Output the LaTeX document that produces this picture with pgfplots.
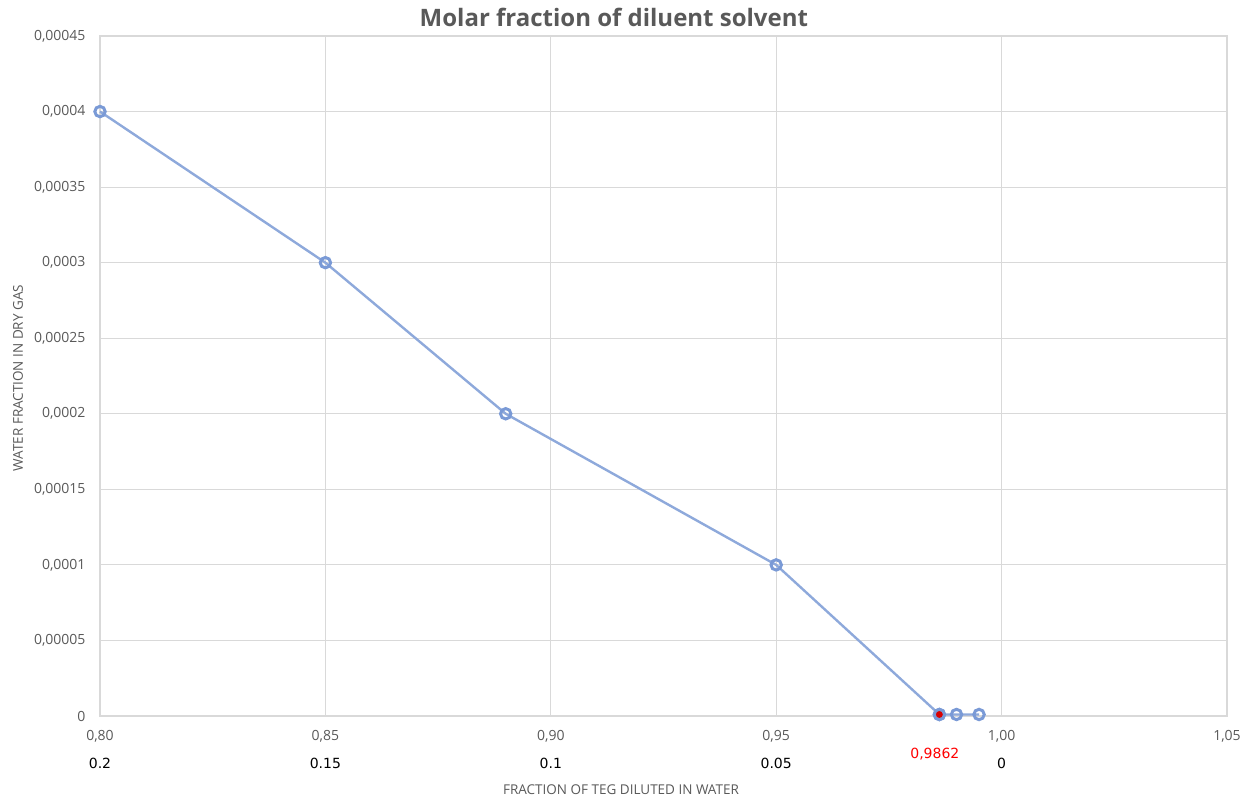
\documentclass[border=0pt]{standalone}
\usepackage{fontspec}
\setmainfont{Open Sans}
\newfontfamily\dejavu{DejaVu Sans}
\usepackage{pgfplots}
\pgfplotsset{compat=1.18}
\definecolor{gridc}{RGB}{217,217,217}
\definecolor{txtc}{RGB}{89,89,89}
\definecolor{linec}{RGB}{142,169,219}
\definecolor{ringc}{RGB}{122,154,214}
\begin{document}
\begin{tikzpicture}
\begin{axis}[
  at={(0,0)}, anchor=south west,
  scale only axis, width=1127bp, height=680bp,
  xmin=0.80, xmax=1.05, ymin=0, ymax=0.00045,
  xtick={0.80,0.85,0.90,0.95,1.00,1.05},
  xticklabels={0{,}80,0{,}85,0{,}90,0{,}95,1{,}00,1{,}05},
  ytick={0,0.00005,0.0001,0.00015,0.0002,0.00025,0.0003,0.00035,0.0004,0.00045},
  yticklabels={0,0{,}00005,0{,}0001,0{,}00015,0{,}0002,0{,}00025,0{,}0003,0{,}00035,0{,}0004,0{,}00045},
  scaled y ticks=false,
  grid=major, major grid style={gridc, line width=1.2bp},
  axis line style={gridc, line width=1.2bp},
  major tick length=0pt,
  tick label style={font=\fontsize{14bp}{16bp}\selectfont, text=txtc},
  yticklabel style={xshift=-11bp},
  xticklabel style={yshift=-11bp},
  clip=false,
]
\addplot[linec, line width=2.4bp, mark=o, mark size=5.2bp,
  mark options={ringc, line width=3bp, fill=white}]
  coordinates {
  (0.80,0.0004)
  (0.85,0.0003)
  (0.89,0.0002)
  (0.95,0.0001)
  (0.9862,0.000001)
  (0.99,0.000001)
  (0.995,0.000001)
  };
\addplot[only marks, mark=*, mark size=5.2bp,
  mark options={draw=ringc, line width=3bp, fill=red!85!black}]
  coordinates {(0.9862,0.000001)};
\node[font=\dejavu\fontsize{14bp}{16bp}\selectfont, text=red] at (axis cs:0.9852,0) [yshift=-38bp] {0,9862};
\node[font=\dejavu\fontsize{14bp}{16bp}\selectfont, text=black] at (axis cs:0.80,0) [yshift=-47bp] {0.2};
\node[font=\dejavu\fontsize{14bp}{16bp}\selectfont, text=black] at (axis cs:0.85,0) [yshift=-47bp] {0.15};
\node[font=\dejavu\fontsize{14bp}{16bp}\selectfont, text=black] at (axis cs:0.90,0) [yshift=-47bp] {0.1};
\node[font=\dejavu\fontsize{14bp}{16bp}\selectfont, text=black] at (axis cs:0.95,0) [yshift=-47bp] {0.05};
\node[font=\dejavu\fontsize{14bp}{16bp}\selectfont, text=black] at (axis cs:1.00,0) [yshift=-47bp] {0};
\node[font=\fontsize{13.5bp}{15bp}\selectfont, text=txtc] at (rel axis cs:0.4623,0) [yshift=-74bp] {FRACTION OF TEG DILUTED IN WATER};
\node[xshift=-82bp, font=\fontsize{13.5bp}{15bp}\selectfont, text=txtc, rotate=90] at (rel axis cs:0,0.497) {WATER FRACTION IN DRY GAS};
\node[font=\bfseries\fontsize{24bp}{28bp}\selectfont, text=txtc] at (rel axis cs:0.456,1) [yshift=19bp] {Molar fraction of diluent solvent};
\end{axis}
\path[use as bounding box] (-100bp,-91bp) rectangle (1158bp,716bp);
\end{tikzpicture}
\end{document}
